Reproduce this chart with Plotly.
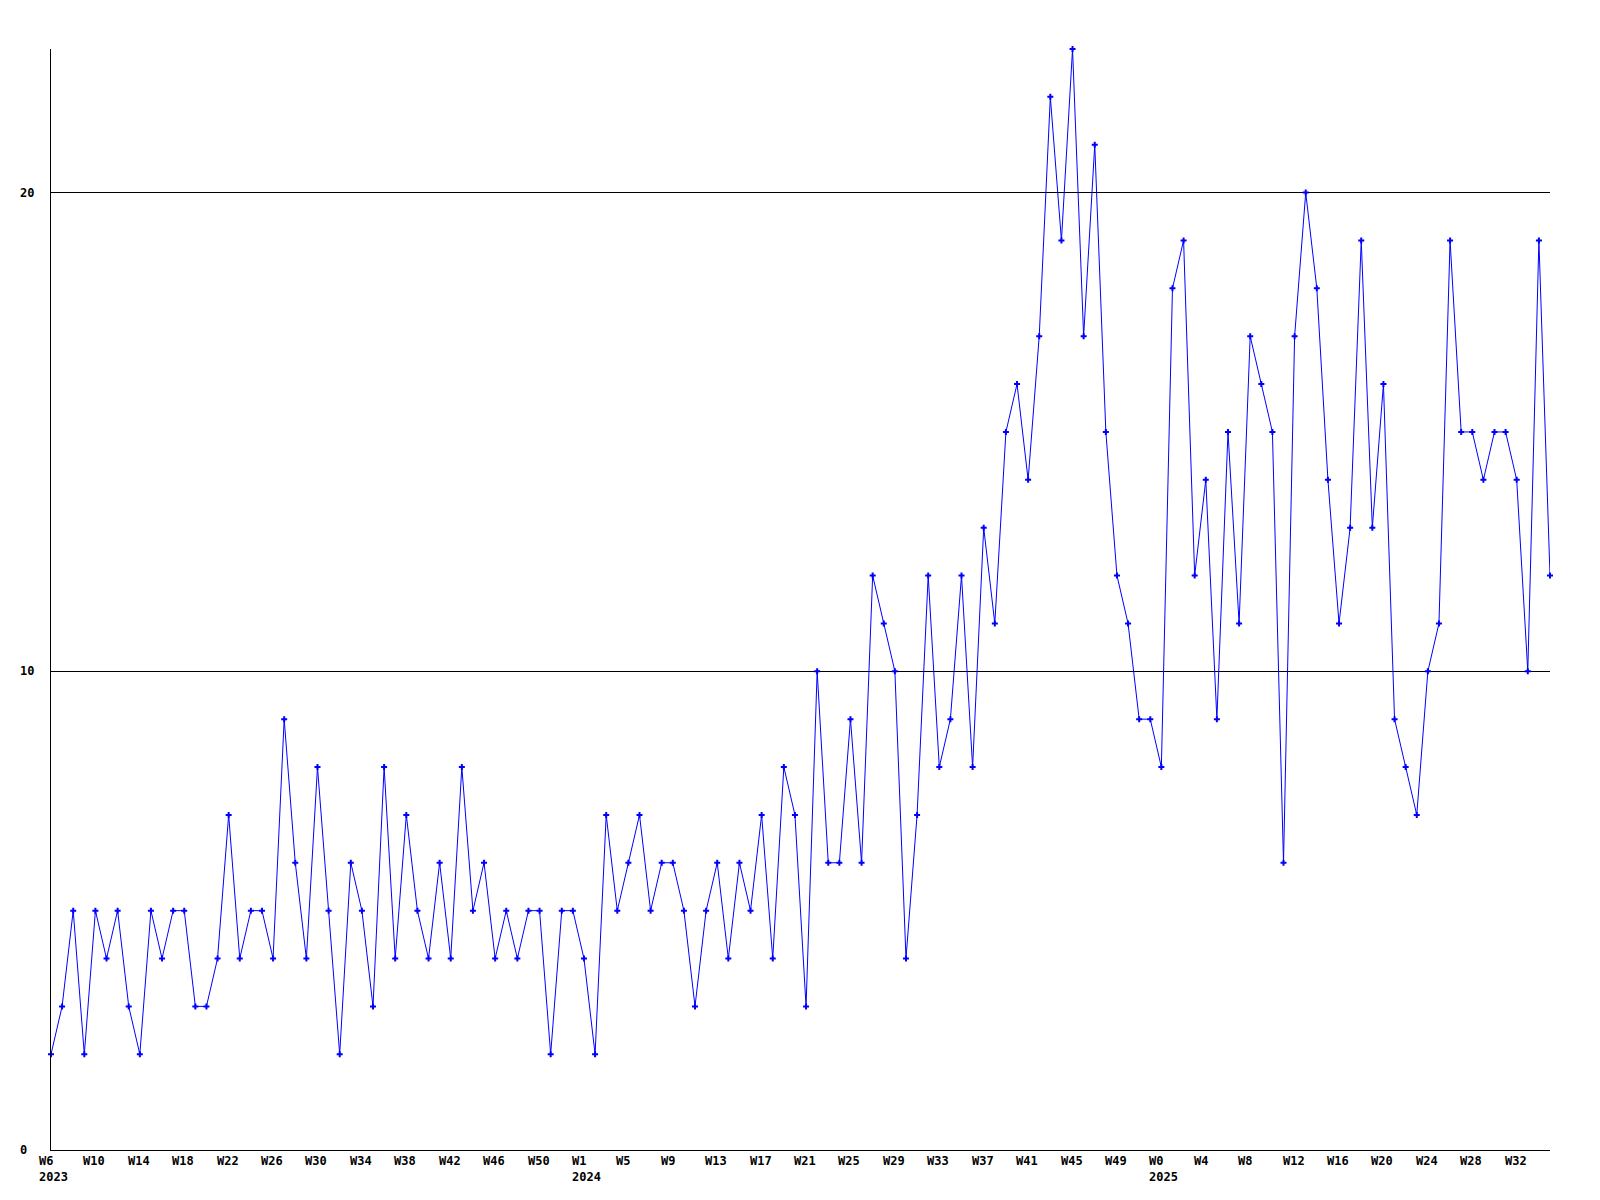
import plotly.graph_objects as go

# Weekly values, W6 2023 .. W35 2025 (one per week, in order)
values = [
    2, 3, 5, 2, 5, 4, 5, 3, 2, 5, 4, 5, 5, 3, 3, 4, 7, 4, 5, 5, 4, 9, 6, 4, 8, 5, 2,
    6, 5, 3, 8, 4, 7, 5, 4, 6, 4, 8, 5, 6, 4, 5, 4, 5, 5, 2, 5, 5, 4, 2, 7, 5, 6,
    7, 5, 6, 6, 5, 3, 5, 6, 4, 6, 5, 7, 4, 8, 7, 3, 10, 6, 6, 9, 6, 12, 11, 10, 4, 7,
    12, 8, 9, 12, 8, 13, 11, 15, 16, 14, 17, 22, 19, 23, 17, 21, 15, 12, 11, 9, 9, 8, 18, 19, 12, 14, 9,
    15, 11, 17, 16, 15, 6, 17, 20, 18, 14, 11, 13, 19, 13, 16, 9, 8, 7, 10, 11, 19, 15, 15, 14, 15, 15, 14, 10, 19, 12,
]

# X tick labels (every 4th week) and their positions in the series
tick_pos = [0, 4, 8, 12, 16, 20, 24, 28, 32, 36, 40, 44,
            48, 52, 56, 60, 64, 68, 72, 76, 80, 84, 88, 92, 96,
            100, 104, 108, 112, 116, 120, 124, 128, 132]
tick_labels = ["W6", "W10", "W14", "W18", "W22", "W26", "W30", "W34", "W38", "W42", "W46", "W50",
               "W1", "W5", "W9", "W13", "W17", "W21", "W25", "W29", "W33", "W37", "W41", "W45", "W49",
               "W0", "W4", "W8", "W12", "W16", "W20", "W24", "W28", "W32"]
year_pos = [0, 48, 100]
year_labels = ["2023", "2024", "2025"]

y_ticks = [0, 10, 20]

FONT = dict(family="DejaVu Sans Mono", size=12, color="black")

x = list(range(len(values)))

fig = go.Figure()
fig.add_trace(go.Scatter(
    x=x, y=values, mode="lines+markers",
    line=dict(color="#0000FF", width=1),
    marker=dict(symbol="cross", size=5, color="#0000FF", line=dict(width=0)),
    cliponaxis=False, hoverinfo="skip", showlegend=False,
))

annotations = []
for p, t in zip(tick_pos, tick_labels):
    annotations.append(dict(x=p, y=0, xref="x", yref="paper", text="<b>%s</b>" % t,
                            showarrow=False, xanchor="left", yanchor="middle",
                            xshift=-14, yshift=-11, font=FONT))
for p, t in zip(year_pos, year_labels):
    annotations.append(dict(x=p, y=0, xref="x", yref="paper", text="<b>%s</b>" % t,
                            showarrow=False, xanchor="left", yanchor="middle",
                            xshift=-14, yshift=-27, font=FONT))
for v in y_ticks:
    annotations.append(dict(x=0, y=v, xref="paper", yref="y", text="<b>%d</b>" % v,
                            showarrow=False, xanchor="left", yanchor="middle",
                            xshift=-33, font=FONT))

fig.update_layout(
    width=1600, height=1200,
    margin=dict(l=43, r=58, t=41, b=58),
    paper_bgcolor="white", plot_bgcolor="white",
    xaxis=dict(range=[0, len(values) - 1], showgrid=False, zeroline=False,
               showline=True, linecolor="black", linewidth=1,
               showticklabels=False, ticks=""),
    yaxis=dict(range=[0, 23], tickvals=[10, 20], showgrid=True, gridcolor="black",
               gridwidth=1, zeroline=False, showline=True, linecolor="black",
               linewidth=1, showticklabels=False, ticks=""),
    annotations=annotations,
)

fig.write_html("out.html")
